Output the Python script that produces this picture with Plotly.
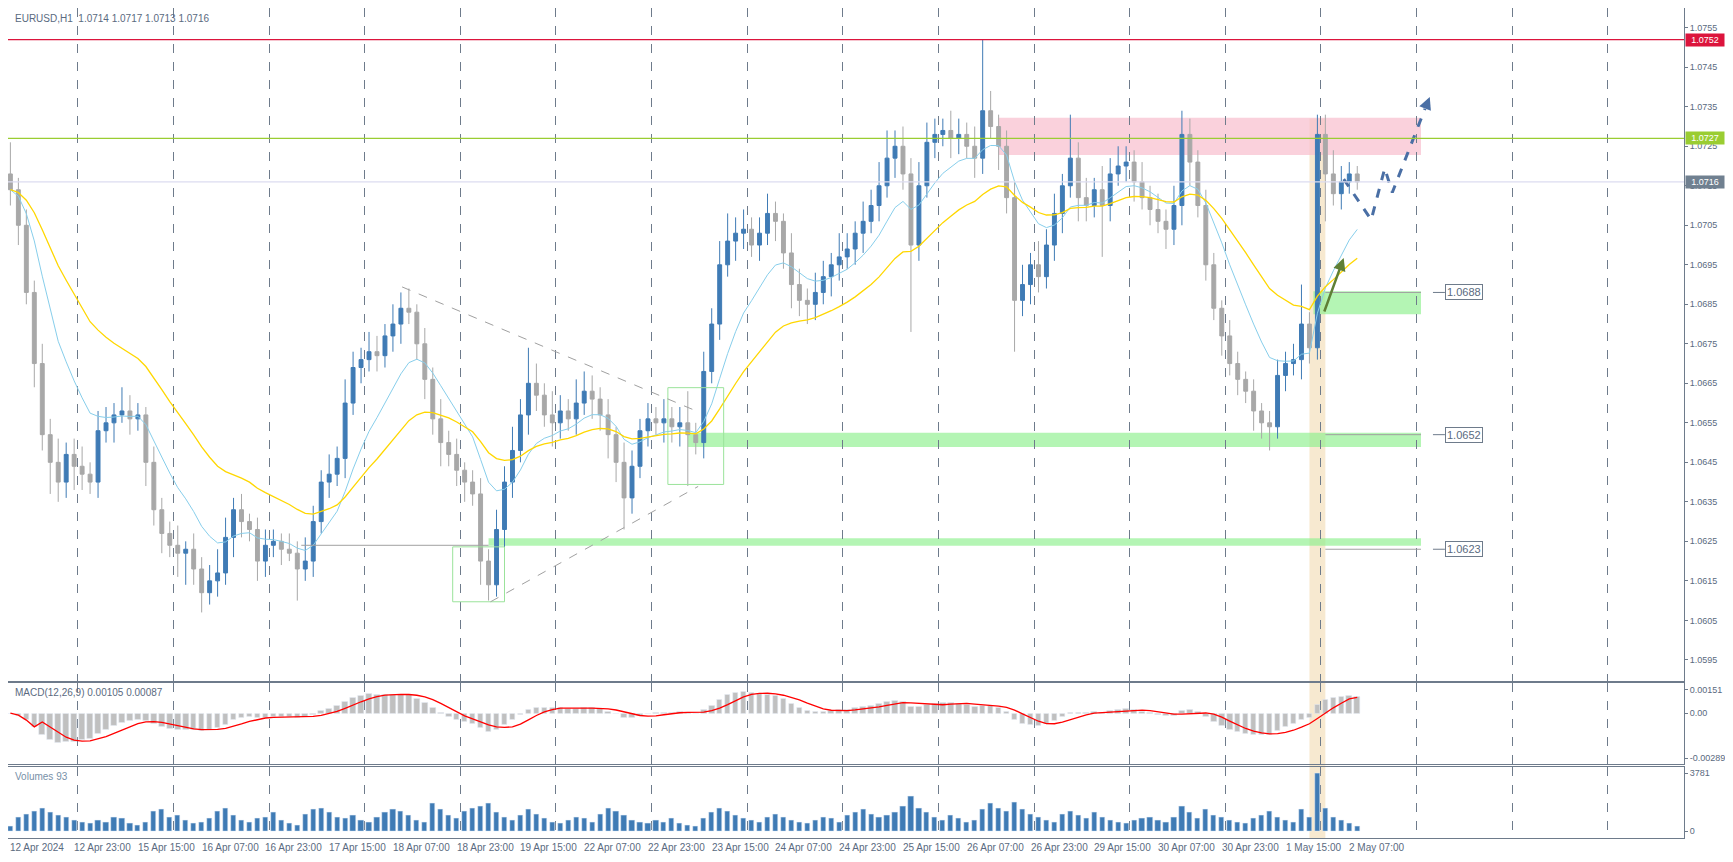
import numpy as np
import plotly.graph_objects as go
from plotly.subplots import make_subplots

# EURUSD 2-hour bars, prices in pips above 1.0600
closes = [114, 105, 88, 70, 52, 45, 40, 47, 44, 42,
          40, 53, 55, 57, 58, 56, 57, 45, 33, 27,
          24, 22, 23, 18, 12, 15, 17, 26, 33, 30,
          28, 20, 24, 25, 23, 22, 18, 20, 30, 40,
          42, 46, 60, 69, 71, 73, 72, 77, 80, 84,
          83, 75, 66, 56, 50, 47, 43, 40, 37, 20,
          14, 28, 40, 48, 57, 65, 62, 57, 55, 58,
          56, 60, 63, 61, 57, 52, 45, 36, 44, 53,
          56, 55, 56, 54, 55, 52, 50, 68, 80, 95,
          101, 103, 104, 100, 103, 108, 106, 98, 90, 86,
          85, 88, 92, 95, 97, 99, 103, 106, 110, 115,
          122, 125, 118, 100, 115, 126, 128, 129, 127, 128,
          125, 122, 134, 130, 125, 112, 86, 90, 95, 92,
          100, 108, 115, 122, 112, 110, 114, 110, 118, 120,
          121, 116, 112, 109, 106, 104, 110, 128, 121, 110,
          95, 84, 77, 70, 66, 63, 58, 55, 54, 67,
          70, 71, 80, 74, 128, 118, 113, 116, 118, 116]
first_open = 118
upper_wicks = [8, 3, 4, 3, 5, 4, 6, 3, 4, 5, 3, 5, 4, 3, 6, 4, 3, 2, 4, 3,
               3, 5, 2, 4, 3, 4, 6, 5, 3, 4, 2, 3, 4, 3, 2, 4, 3, 6, 4, 3,
               5, 3, 6, 4, 3, 5, 4, 3, 5, 4, 5, 2, 4, 3, 5, 3, 4, 2, 3, 4,
               3, 5, 4, 6, 4, 9, 5, 3, 6, 4, 3, 6, 5, 4, 3, 4, 2, 5, 4, 3,
               4, 3, 5, 3, 4, 8, 3, 5, 4, 6, 7, 4, 5, 3, 4, 5, 3, 2, 5, 4,
               3, 5, 4, 3, 6, 4, 3, 5, 4, 6, 7, 4, 5, 4, 6, 5, 4, 3, 5, 4,
               3, 5, 18, 5, 3, 4, 4, 5, 3, 6, 4, 5, 3, 11, 4, 5, 3, 6, 4, 5,
               4, 3, 5, 3, 4, 3, 5, 6, 4, 3, 4, 3, 2, 4, 3, 2, 3, 2, 3, 4,
               3, 4, 10, 3, 5, 5, 6, 4, 3, 2]
lower_wicks = [4, 5, 3, 6, 4, 8, 5, 4, 6, 4, 3, 4, 3, 5, 2, 4, 3, 6, 4, 5,
               3, 6, 8, 4, 5, 3, 4, 3, 5, 4, 3, 5, 4, 3, 4, 2, 8, 3, 4, 3,
               4, 3, 5, 3, 4, 3, 4, 3, 4, 5, 3, 4, 5, 4, 6, 3, 4, 5, 3, 6,
               4, 3, 5, 4, 3, 5, 4, 3, 6, 4, 3, 4, 3, 5, 4, 6, 5, 8, 4, 3,
               4, 3, 5, 4, 5, 13, 3, 4, 3, 4, 3, 5, 4, 3, 4, 3, 5, 4, 6, 4,
               5, 4, 3, 5, 4, 3, 4, 5, 3, 4, 3, 5, 4, 22, 4, 3, 4, 3, 5, 4,
               3, 5, 4, 3, 6, 4, 13, 4, 5, 4, 3, 4, 5, 3, 6, 4, 3, 13, 4, 3,
               4, 5, 3, 4, 3, 5, 4, 5, 6, 3, 4, 3, 5, 3, 4, 3, 5, 4, 6, 3,
               4, 3, 5, 4, 3, 12, 3, 4, 3, 2]
volumes = [300, 900, 1100, 1300, 1500, 1200, 1000, 900, 700, 600,
           500, 700, 600, 900, 800, 500, 400, 600, 1300, 1400,
           900, 1000, 700, 500, 600, 800, 1300, 1500, 1000, 700,
           600, 800, 900, 1200, 700, 500, 400, 1100, 1400, 1500,
           1200, 900, 800, 1000, 700, 600, 900, 1200, 1400, 1300,
           1000, 700, 600, 1800, 1400, 1000, 800, 1300, 1500, 1600,
           1800, 1200, 900, 700, 1000, 1400, 1100, 800, 600, 500,
           700, 900, 800, 600, 1100, 1500, 1300, 1000, 700, 600,
           500, 700, 600, 800, 500, 400, 300, 800, 1200, 1500,
           1300, 1000, 800, 700, 600, 900, 1100, 900, 700, 600,
           500, 700, 900, 800, 600, 1000, 1200, 1400, 1100, 900,
           1000, 1200, 1600, 2300, 1500, 1200, 900, 700, 1000, 800,
           600, 700, 1400, 1800, 1500, 1300, 1900, 1400, 1100, 900,
           700, 600, 1100, 1300, 1000, 800, 1200, 900, 700, 600,
           500, 700, 800, 900, 700, 600, 900, 1600, 1200, 800,
           1400, 1000, 900, 700, 600, 500, 800, 1000, 1300, 900,
           700, 600, 1400, 900, 3781, 1500, 900, 700, 500, 300]
date_labels = ["12 Apr 2024", "12 Apr 23:00", "15 Apr 15:00", "16 Apr 07:00", "16 Apr 23:00",
               "17 Apr 15:00", "18 Apr 07:00", "18 Apr 23:00", "19 Apr 15:00", "22 Apr 07:00",
               "22 Apr 23:00", "23 Apr 15:00", "24 Apr 07:00", "24 Apr 23:00", "25 Apr 15:00",
               "26 Apr 07:00", "26 Apr 23:00", "29 Apr 15:00", "30 Apr 07:00", "30 Apr 23:00",
               "1 May 15:00", "2 May 07:00"]
levels = [1.0688, 1.0652, 1.0623]
price_ticks = [1.0595, 1.0605, 1.0615, 1.0625, 1.0635, 1.0645, 1.0655, 1.0665, 1.0675,
               1.0685, 1.0695, 1.0705, 1.0715, 1.0725, 1.0735, 1.0745, 1.0755]
# hand-drawn forecast path (hours, price)
path_x = [334.6, 341.5, 344.9, 346.8, 355.0]
path_y = [1.07167, 1.07064, 1.07194, 1.07133, 1.07345]

BASE = 1.06
c = np.array(closes) / 10000 + BASE
o = np.concatenate([[first_open / 10000 + BASE], c[:-1]])
h = np.maximum(o, c) + np.array(upper_wicks) / 10000
lo = np.minimum(o, c) - np.array(lower_wicks) / 10000
x = np.arange(len(closes)) * 2  # hours


def ema(v, n):
    out = np.empty_like(v)
    a = 2 / (n + 1)
    out[0] = v[0]
    for k in range(1, len(v)):
        out[k] = a * v[k] + (1 - a) * out[k - 1]
    return out


ma_fast = ema(c, 10)
ma_slow = ema(c, 25)
macd = ema(c, 6) - ema(c, 13)
signal = np.convolve(macd, np.ones(5) / 5, mode="full")[:len(macd)]
signal[:4] = macd[:4]

GRID = "#6e7b8b"
TXT = "#5a6a80"
FONT = "Liberation Sans"
P_DOM = [0.1894, 1.0]
M_DOM = [0.0887, 0.1871]
V_DOM = [0.0, 0.0851]
P_RNG = [1.05897, 1.07600]
XR = [-0.6, 420]

fig = make_subplots(rows=3, cols=1, shared_xaxes=True)

fig.add_trace(go.Candlestick(x=x, open=o, high=h, low=lo, close=c,
                             increasing=dict(line=dict(color="#3f7bb5", width=1), fillcolor="#3f7bb5"),
                             decreasing=dict(line=dict(color="#a8a8a8", width=1), fillcolor="#a8a8a8"),
                             whiskerwidth=0, showlegend=False), row=1, col=1)
fig.add_trace(go.Scatter(x=x, y=ma_fast, mode="lines", line=dict(color="#87ceeb", width=1),
                         showlegend=False), row=1, col=1)
fig.add_trace(go.Scatter(x=x, y=ma_slow, mode="lines", line=dict(color="#ffd700", width=1.3),
                         showlegend=False), row=1, col=1)

fig.add_trace(go.Bar(x=x, y=macd, marker_color="#c0c0c0", width=1.4, showlegend=False), row=2, col=1)
fig.add_trace(go.Scatter(x=x, y=signal, mode="lines", line=dict(color="red", width=1.3),
                         showlegend=False), row=2, col=1)
fig.add_trace(go.Bar(x=x, y=volumes, marker_color="#3f7bb5", width=1.3, showlegend=False), row=3, col=1)

# horizontal price lines
for yv, col in [(1.0752, "#dc143c"), (1.0727, "#9acd32"), (1.0716, "#dcdcf0")]:
    fig.add_shape(type="line", xref="x", yref="y", x0=XR[0], x1=XR[1], y0=yv, y1=yv,
                  line=dict(color=col, width=1.2))

# zones
fig.add_shape(type="rect", x0=248, x1=354, y0=1.07228, y1=1.07322, fillcolor="rgba(248,190,205,0.7)",
              line_width=0, layer="below", xref="x", yref="y")
for x0, y0, y1 in [(327, 1.06825, 1.06883), (170, 1.06489, 1.06525), (120, 1.06239, 1.06258)]:
    fig.add_shape(type="rect", x0=x0, x1=354, y0=y0, y1=y1, fillcolor="rgba(140,240,140,0.65)",
                  line_width=0, layer="below", xref="x", yref="y")
fig.add_shape(type="line", x0=73, x1=120, y0=1.0624, y1=1.0624, line=dict(color="#a0a0a0", width=1),
              xref="x", yref="y")
for lv in levels:
    fig.add_shape(type="line", x0=330, x1=354, y0=lv, y1=lv, line=dict(color="#a0a0a0", width=1),
                  xref="x", yref="y")
    fig.add_shape(type="line", x0=357, x1=360, y0=lv, y1=lv, line=dict(color="#6e7b8b", width=1),
                  xref="x", yref="y")
    fig.add_annotation(x=360, y=lv, xref="x", yref="y", text=f"{lv:.4f}", showarrow=False,
                       xanchor="left", bordercolor="#6e7b8b", borderwidth=1, borderpad=1,
                       bgcolor="white", font=dict(family=FONT, size=11, color=TXT))
for x0, x1, y0, y1 in [(111, 124, 1.06097, 1.06236), (165, 179, 1.06394, 1.06639)]:
    fig.add_shape(type="rect", x0=x0, x1=x1, y0=y0, y1=y1, line=dict(color="#9be39b", width=1),
                  xref="x", yref="y")
for x0, y0, x1, y1 in [(98.3, 1.06894, 172.6, 1.06578), (120.5, 1.06097, 172.6, 1.06389)]:
    fig.add_shape(type="line", x0=x0, x1=x1, y0=y0, y1=y1, line=dict(color="#a0a0a0", width=1, dash="dash"),
                  xref="x", yref="y")

# vertical highlight band through all panes
top_paper = P_DOM[0] + (1.0732 - P_RNG[0]) / (P_RNG[1] - P_RNG[0]) * (P_DOM[1] - P_DOM[0])
fig.add_shape(type="rect", xref="x", yref="paper", x0=326, x1=330, y0=0, y1=top_paper,
              fillcolor="rgba(240,215,170,0.55)", line_width=0, layer="below")

# projected path and arrows
fig.add_trace(go.Scatter(x=path_x, y=path_y, mode="lines", line=dict(color="#4a6fa5", width=3, dash="dash"),
                         showlegend=False, hoverinfo="skip"), row=1, col=1)
fig.add_annotation(x=356.2, y=1.07375, ax=355, ay=1.07345, xref="x", yref="y", axref="x", ayref="y",
                   text="", showarrow=True, arrowhead=2, arrowsize=1, arrowwidth=2.5, arrowcolor="#4a6fa5")
fig.add_annotation(x=334.6, y=1.06967, ax=329.6, ay=1.06828, xref="x", yref="y", axref="x", ayref="y",
                   text="", showarrow=True, arrowhead=2, arrowsize=1, arrowwidth=2.5, arrowcolor="#5f7f35")

# right axis highlighted labels
for yv, bg in [(1.0752, "#dc143c"), (1.0727, "#9acd32"), (1.0716, "#708090")]:
    fig.add_annotation(x=1, y=yv, xref="paper", yref="y", text=f"{yv:.4f}", showarrow=False,
                       xanchor="left", xshift=1, bgcolor=bg, borderpad=1, width=36,
                       font=dict(family=FONT, size=9, color="white"))

# titles
fig.add_annotation(x=0.003, y=P_DOM[1], xref="paper", yref="paper", yshift=-3, showarrow=False,
                   xanchor="left", yanchor="top", text="EURUSD,H1  1.0714 1.0717 1.0713 1.0716",
                   font=dict(family=FONT, size=10, color=TXT))
fig.add_annotation(x=0.003, y=M_DOM[1], xref="paper", yref="paper", yshift=-2, showarrow=False,
                   xanchor="left", yanchor="top", text="MACD(12,26,9) 0.00105 0.00087",
                   font=dict(family=FONT, size=10, color=TXT))
fig.add_annotation(x=0.003, y=V_DOM[1], xref="paper", yref="paper", yshift=-2, showarrow=False,
                   xanchor="left", yanchor="top", text="Volumes 93",
                   font=dict(family=FONT, size=10, color="#7890a8"))

# date labels
for k, lab in enumerate(date_labels):
    fig.add_annotation(x=16 * k, y=0, xref="x", yref="paper", yshift=-2, showarrow=False,
                       xanchor="left", yanchor="top", xshift=-2, text=lab,
                       font=dict(family=FONT, size=10, color=TXT))

grid_vals = list(np.arange(16.9, 420, 24))
ax_common = dict(showline=True, linecolor=GRID, mirror=True, linewidth=1, zeroline=False)
for r, dom in [(1, P_DOM), (2, M_DOM), (3, V_DOM)]:
    fig.update_xaxes(row=r, col=1, range=XR, tickvals=grid_vals, showticklabels=False,
                     showgrid=True, gridcolor=GRID, griddash="dash", gridwidth=1,
                     rangeslider_visible=False, **ax_common)
    fig.update_yaxes(row=r, col=1, domain=dom, side="right", showgrid=False, ticks="outside",
                     ticklen=3, tickcolor=GRID, tickfont=dict(family=FONT, size=9, color=TXT),
                     **ax_common)
fig.update_yaxes(row=1, col=1, range=P_RNG, tickvals=price_ticks, tickformat=".4f")
fig.update_yaxes(row=2, col=1, range=[-0.0033, 0.00197], tickvals=[-0.00289, 0, 0.00151],
                 ticktext=["-0.00289", "0.00", "0.00151"])
fig.update_yaxes(row=3, col=1, range=[-455, 4170], tickvals=[0, 3781], ticktext=["0", "3781"])

fig.update_layout(width=1717, height=846, margin=dict(l=0, r=41, t=0, b=16),
                  plot_bgcolor="white", paper_bgcolor="white", bargap=0, showlegend=False,
                  font=dict(family=FONT))
fig.write_html("out.html")
